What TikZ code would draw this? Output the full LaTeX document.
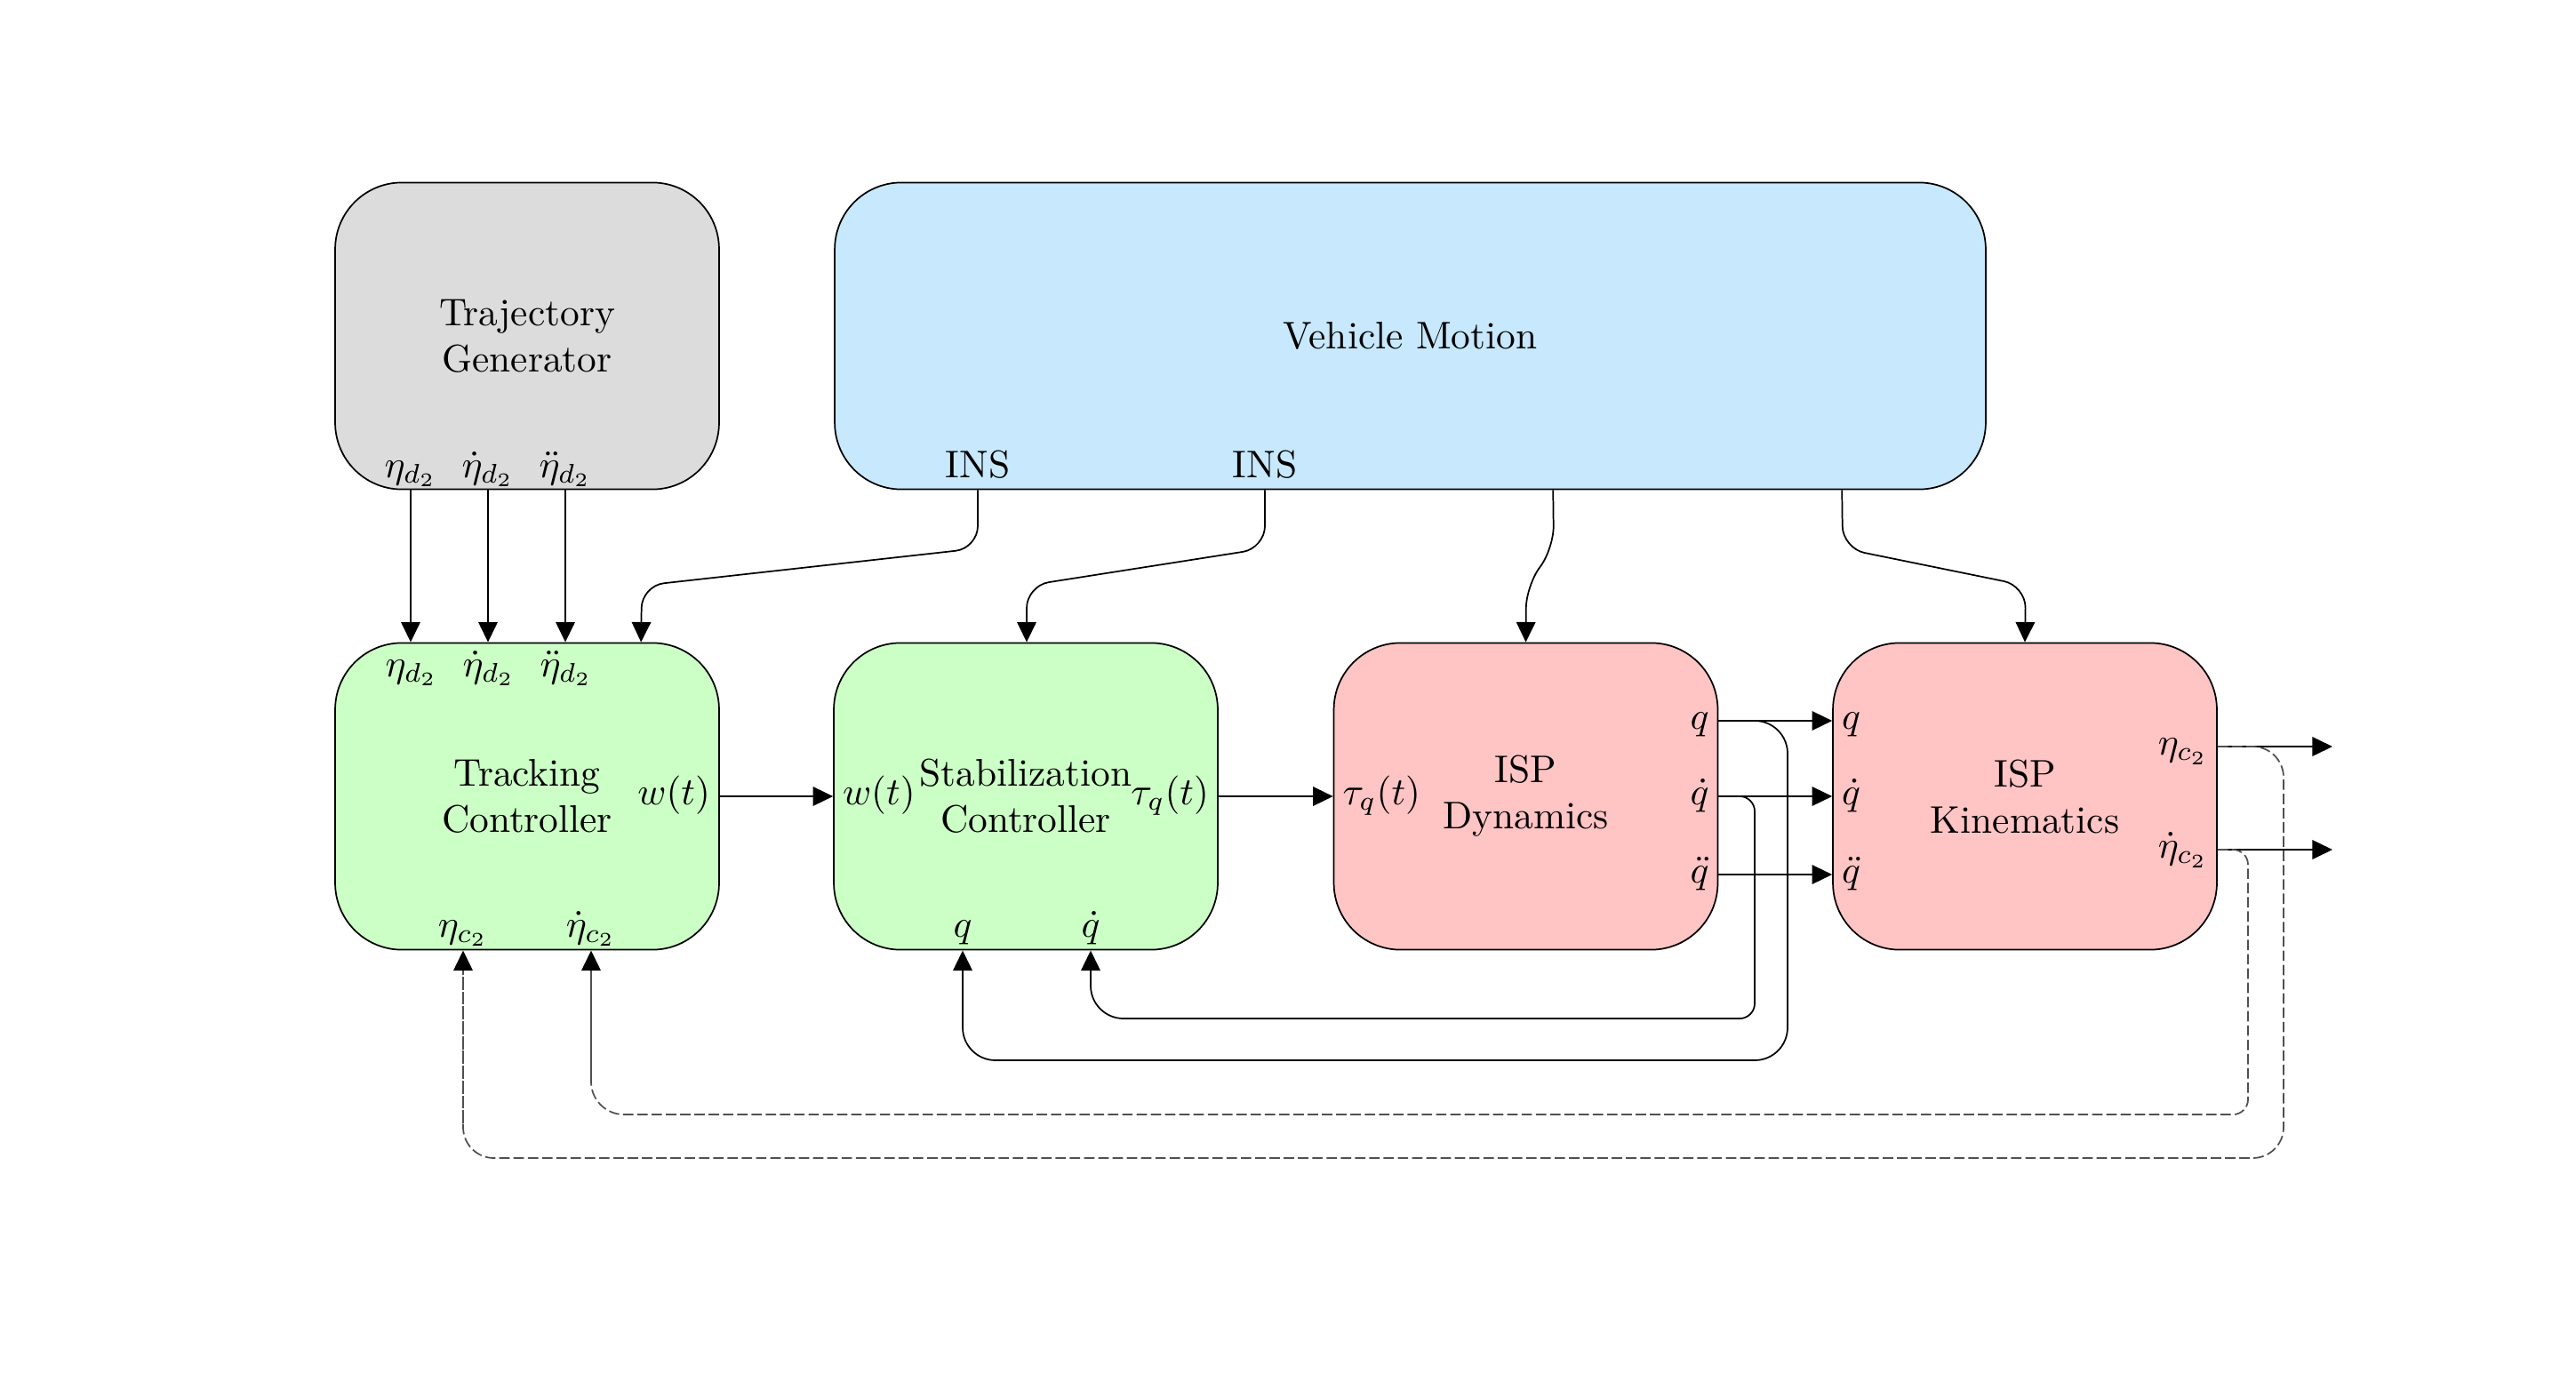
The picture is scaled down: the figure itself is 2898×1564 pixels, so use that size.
\documentclass[tikz,border=0pt]{standalone}
\usetikzlibrary{arrows.meta,calc}
\definecolor{tggray}{HTML}{DCDCDC}
\definecolor{vmblue}{HTML}{C7E8FD}
\definecolor{ctgreen}{HTML}{CCFFC6}
\definecolor{isppink}{HTML}{FFC4C4}
\definecolor{fbgray}{HTML}{505050}
\begin{document}
\begin{tikzpicture}[x=0.2306pt,y=-0.2306pt,
  blk/.style={draw=black, line width=0.4pt, rounded corners=17.3pt,
    minimum width=99.6pt, minimum height=79.6pt, align=center, inner sep=0pt},
  lbl/.style={anchor=base, inner sep=0pt},
  lble/.style={anchor=mid east, inner sep=2.3pt},
  lblw/.style={anchor=mid west, inner sep=2.3pt},
  arr/.style={-{Triangle[length=5.2pt,width=4.95pt,color=black]}, line width=0.4pt},
  fb/.style={draw=fbgray, dash pattern=on 2.7pt off 1pt, line width=0.4pt},
]
\fill[white] (0,0) rectangle (2898,1564);
\useasboundingbox (0,0) rectangle (2898,1564);

% rows
\coordinate (rq) at (0,811);
\coordinate (rm) at (0,896);
\coordinate (rqdd) at (0,984);
\coordinate (re) at (0,840);
\coordinate (red) at (0,956);

% blocks
\node[blk, fill=tggray] (tg) at (593,378) {Trajectory\\Generator};
\node[blk, fill=vmblue, minimum width=298.6pt] (vm) at (1586.5,378) {Vehicle Motion};
\node[blk, fill=ctgreen] (tc) at (593,896) {Tracking\\Controller};
\node[blk, fill=ctgreen] (sc) at (1154,896) {Stabilization\\Controller};
\node[blk, fill=isppink] (dyn) at (1716.5,896) {ISP\\Dynamics};
\node[blk, fill=isppink] (kin) at (2278,896) {ISP\\Kinematics};

% trajectory generator outputs
\node[lbl] (tgo1) at (462,537) {$\eta_{d_2}$};
\node[lbl] (tgo2) at (549,537) {$\dot\eta_{d_2}$};
\node[lbl] (tgo3) at (636,537) {$\ddot\eta_{d_2}$};
% vehicle motion outputs
\node[lbl] (ins1) at (1100,537) {INS};
\node[lbl] (ins2) at (1423,537) {INS};
\coordinate (vmo3) at ($(vm.south west)+(809,0)$);
\coordinate (vmo4) at ($(vm.south west)+(1134,0)$);
% tracking controller
\node[lbl] (tci1) at (463,761) {$\eta_{d_2}$};
\node[lbl] (tci2) at (550,761) {$\dot\eta_{d_2}$};
\node[lbl] (tci3) at (637,761) {$\ddot\eta_{d_2}$};
\coordinate (tci4) at ($(tc.north west)+(345,0)$);
\node[lble] (tcw) at (tc.east |- rm) {$w(t)$};
\node[lbl] (tco1) at (521,1054) {$\eta_{c_2}$};
\node[lbl] (tco2) at (665,1054) {$\dot\eta_{c_2}$};
% stabilization controller
\node[lblw] (scw) at (sc.west |- rm) {$w(t)$};
\node[lble] (sct) at (sc.east |- rm) {$\tau_q(t)$};
\node[lbl] (sci1) at (1083,1054) {$q$};
\node[lbl] (sci2) at (1227,1054) {$\dot q$};
% ISP dynamics
\node[lblw] (dynt) at (dyn.west |- rm) {$\tau_q(t)$};
\node[lble] (dynq) at (dyn.east |- rq) {$q$};
\node[lble] (dynqd) at (dyn.east |- rm) {$\dot q$};
\node[lble] (dynqdd) at (dyn.east |- rqdd) {$\ddot q$};
% ISP kinematics
\node[lblw] (kinq) at (kin.west |- rq) {$q$};
\node[lblw] (kinqd) at (kin.west |- rm) {$\dot q$};
\node[lblw] (kinqdd) at (kin.west |- rqdd) {$\ddot q$};
\node[lble] (kine) at (kin.east |- re) {$\eta_{c_2}$};
\node[lble] (kined) at (kin.east |- red) {$\dot\eta_{c_2}$};
\coordinate (out1) at (2624,840);
\coordinate (out2) at (2624,956);

% trajectory -> tracking
\draw[arr] (tg.south -| tgo1) -- (tc.north -| tgo1);
\draw[arr] (tg.south -| tgo2) -- (tc.north -| tgo2);
\draw[arr] (tg.south -| tgo3) -- (tc.north -| tgo3);

% vehicle motion -> blocks
\draw[arr, rounded corners=5.8pt] (vm.south -| ins1) -- (1100,617) -- (722,659) -- (tci4);
\draw[arr, rounded corners=5.8pt] (vm.south -| ins2) -- (1423,617) -- (1155,659) -- (sc.north -| 1155,0);
\draw[arr, rounded corners=5.8pt] (vmo3) -- (1748,617) -- (1717,659) -- (dyn.north);
\draw[arr, rounded corners=5.8pt] (vmo4) -- (2073,617) -- (2279,659) -- (kin.north);

% main chain
\draw[arr] (tc.east |- rm) -- (sc.west |- rm);
\draw[arr] (sc.east |- rm) -- (dyn.west |- rm);
\draw[arr] (dyn.east |- rq) -- (kin.west |- rq);
\draw[arr] (dyn.east |- rm) -- (kin.west |- rm);
\draw[arr] (dyn.east |- rqdd) -- (kin.west |- rqdd);
\draw[arr] (kin.east |- re) -- (out1);
\draw[arr] (kin.east |- red) -- (out2);

% solid feedback q, qdot
\draw[arr, rounded corners=8.5pt] (dyn.east |- rq) -- (2011,811) -- (2011,1193) -- (1083,1193) -- (sc.south -| sci1);
\draw[arr] (dyn.east |- rm) [rounded corners=3.9pt] -- (1974,896) -- (1974,1146) [rounded corners=8.5pt] -- (1227,1146) -- (sc.south -| sci2);

% dashed feedback eta_c2, eta_c2 dot
\draw[fb, rounded corners=8pt] (kin.east |- re) -- (2569,840) -- (2569,1303) -- (521,1303) -- (521,1262);
\draw[arr, draw=fbgray, dash pattern=on 3.4pt off 0.45pt] (521,1264) -- (tc.south -| tco1);
\draw[fb] (kin.east |- red) [rounded corners=3.9pt] -- (2529,956) -- (2529,1254) [rounded corners=8.5pt] -- (665,1254) -- (665,1214);
\draw[arr, draw=fbgray] (665,1216) -- (tc.south -| tco2);
\end{tikzpicture}
\end{document}
